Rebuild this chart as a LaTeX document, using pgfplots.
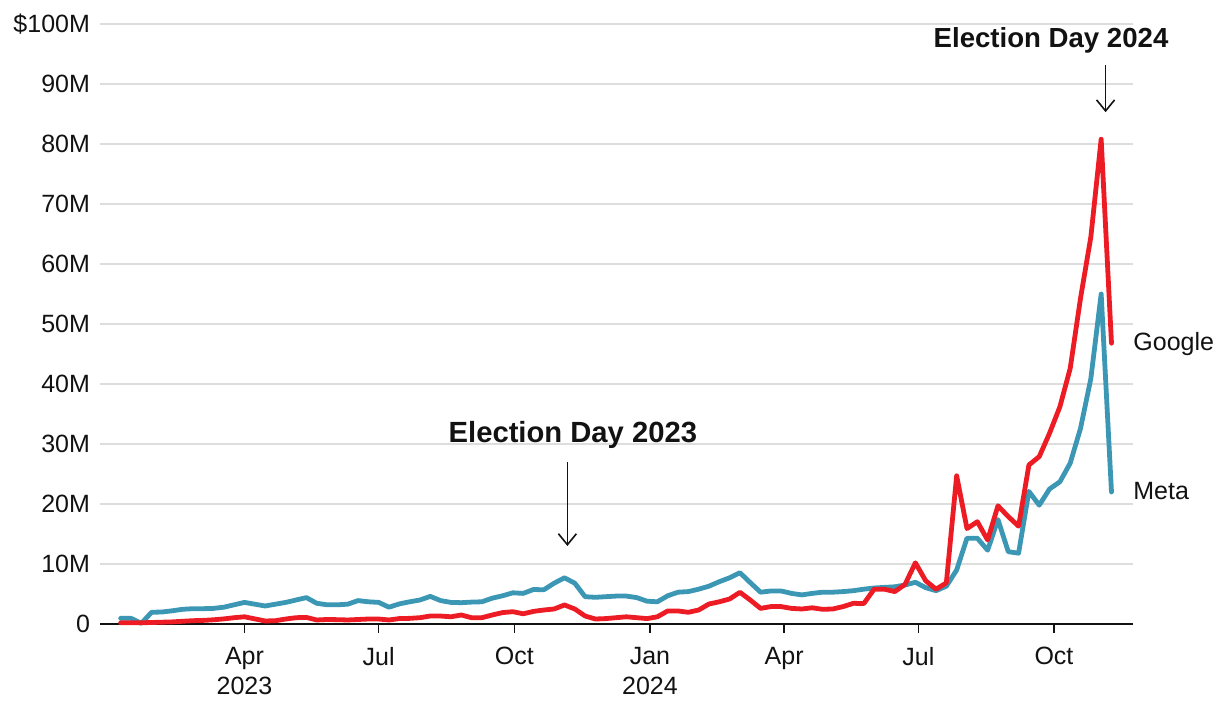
\documentclass[border=0pt]{standalone}
\usepackage{fontspec}
\setmainfont{Liberation Sans}
\usepackage{pgfplots}
\pgfplotsset{compat=1.18}
\usepackage{pgfplotstable}
\usetikzlibrary{arrows.meta,calc}
\definecolor{googred}{HTML}{ED1C24}
\definecolor{metablue}{HTML}{3C97B5}
\definecolor{gridgray}{HTML}{DDDDDD}
\definecolor{txt}{HTML}{121212}

\pgfplotstableread{
day meta google
6 0.95 0.2
13 0.95 0.2
20 0.1 0.2
27 1.95 0.25
34 2.0 0.3
41 2.2 0.35
48 2.45 0.45
55 2.55 0.55
62 2.55 0.6
69 2.6 0.7
76 2.8 0.85
83 3.2 1.05
90 3.6 1.2
97 3.3 0.85
104 3.0 0.5
111 3.3 0.55
118 3.6 0.83
125 4.0 1.05
132 4.4 1.1
139 3.45 0.67
146 3.2 0.75
153 3.2 0.72
160 3.3 0.67
167 3.9 0.75
174 3.7 0.83
181 3.6 0.83
188 2.8 0.67
195 3.35 0.9
202 3.7 0.94
209 4.0 1.05
216 4.6 1.33
223 3.9 1.33
230 3.6 1.2
237 3.55 1.5
244 3.65 1.05
251 3.7 1.05
258 4.3 1.5
265 4.7 1.9
272 5.2 2.05
279 5.1 1.7
286 5.75 2.1
293 5.7 2.33
300 6.8 2.5
307 7.7 3.17
314 6.8 2.5
321 4.55 1.33
328 4.45 0.83
335 4.55 0.9
342 4.65 1.05
349 4.65 1.2
356 4.4 1.05
363 3.8 0.9
370 3.7 1.2
377 4.7 2.17
384 5.3 2.17
391 5.4 1.95
398 5.8 2.33
405 6.3 3.33
412 7.05 3.7
419 7.7 4.17
426 8.55 5.28
433 6.9 4.0
440 5.3 2.6
447 5.5 2.9
454 5.5 2.9
461 5.1 2.6
468 4.85 2.5
475 5.1 2.7
482 5.3 2.45
489 5.3 2.5
496 5.4 2.9
503 5.55 3.45
510 5.8 3.4
517 6.0 5.8
524 6.1 5.8
531 6.2 5.4
538 6.5 6.6
545 6.95 10.2
552 6.05 7.2
559 5.55 5.8
566 6.3 6.85
573 9.0 24.7
580 14.3 15.9
587 14.3 17.05
594 12.3 14.0
601 17.4 19.7
608 12.05 17.9
615 11.8 16.3
622 22.1 26.5
629 19.8 27.9
636 22.5 31.8
643 23.7 36.2
650 26.8 42.6
657 32.6 54.3
664 40.9 64.5
671 55.0 80.8
678 22.0 46.8
}\data

\begin{document}
\begin{tikzpicture}
\begin{axis}[
  scale only axis,
  width=516.5pt, height=300pt,
  xmin=-8, xmax=692.6, ymin=0, ymax=100,
  clip=false,
  axis x line*=bottom, axis y line*=left,
  y axis line style={draw=none},
  x axis line style={txt, line width=1pt},
  xtick={90,181,273,365,456,547,639},
  xticklabels={{Apr\\2023},Jul,Oct,{Jan\\2024},Apr,Jul,Oct},
  tick align=outside,
  major tick length=4.5pt,
  x tick style={txt, line width=0.8pt},
  ytick={0,10,...,100},
  yticklabels={0,10M,20M,30M,40M,50M,60M,70M,80M,90M,\$100M},
  ytick style={draw=none},
  ymajorgrids,
  grid style={gridgray, line width=0.9pt},
  xticklabel style={align=center, font=\fontsize{12.5}{15}\selectfont, text=txt, yshift=-3.5pt},
  yticklabel style={font=\fontsize{12.5}{15}\selectfont, text=txt, xshift=3pt},
  every axis plot/.append style={line join=round, line cap=round},
]
\addplot[metablue, line width=2.4pt] table[x=day, y=meta] {\data};
\addplot[googred, line width=2.4pt] table[x=day, y=google] {\data};

\node[font=\bfseries\fontsize{14.6}{17}\selectfont, text=txt] at (axis cs:312.7,31.5) {Election Day 2023};
\draw[-{Straight Barb[length=5.5pt,width=9pt]}, txt, line width=0.8pt] (axis cs:309,27) -- (axis cs:309,13);
\node[font=\bfseries\fontsize{13.8}{16}\selectfont, text=txt] at (axis cs:637,97.3) {Election Day 2024};
\draw[-{Straight Barb[length=5.5pt,width=9pt]}, txt, line width=0.8pt] (axis cs:674,93.2) -- (axis cs:674,85.3);

\node[anchor=west, font=\fontsize{12.5}{15}\selectfont, text=txt, inner sep=0pt] at (axis cs:692.6,46.7) {Google};
\node[anchor=west, font=\fontsize{12.5}{15}\selectfont, text=txt, inner sep=0pt] at (axis cs:692.6,22.2) {Meta};

\coordinate (ll) at (rel axis cs:0,0);
\coordinate (ur) at (rel axis cs:1,1);
\end{axis}
\pgfresetboundingbox
\path[use as bounding box] ($(ll)+(-50pt,-43pt)$) rectangle ($(ur)+(43.5pt,12pt)$);
\end{tikzpicture}
\end{document}
